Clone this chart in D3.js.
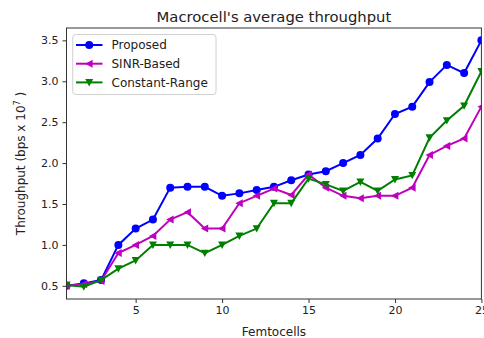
<!DOCTYPE html>
<html>
<head>
<meta charset="utf-8">
<script src="https://cdn.jsdelivr.net/npm/d3@7/dist/d3.min.js"></script>
<style>
  html, body { margin: 0; padding: 0; background: #fff; }
  text { font-family: "DejaVu Sans", sans-serif; fill: #222; }
</style>
</head>
<body>
<div id="chart"></div>
<script>
// data
const femtocells = d3.range(1, 26);
const proposed = [0.50, 0.53, 0.57, 1.00, 1.20, 1.31, 1.70, 1.71, 1.71, 1.60, 1.63, 1.67, 1.71,
  1.79, 1.86, 1.90, 2.00, 2.10, 2.30, 2.60, 2.69, 2.99, 3.20, 3.10, 3.50];
const sinrBased = [0.50, 0.52, 0.56, 0.90, 1.00, 1.11, 1.31, 1.40, 1.20, 1.20, 1.51, 1.60, 1.69,
  1.61, 1.86, 1.70, 1.60, 1.57, 1.60, 1.60, 1.70, 2.10, 2.21, 2.30, 2.69];
const constantRange = [0.51, 0.49, 0.57, 0.71, 0.81, 1.00, 1.00, 1.00, 0.90, 1.00, 1.11, 1.20, 1.51,
  1.51, 1.81, 1.74, 1.66, 1.77, 1.66, 1.80, 1.85, 2.31, 2.52, 2.70, 3.12];
const yTicks = [0.5, 1.0, 1.5, 2.0, 2.5, 3.0, 3.5];
const xTicks = [5, 10, 15, 20, 25];

const series = [
  { name: "Proposed", values: proposed, color: "#0000ff", marker: "circle" },
  { name: "SINR-Based", values: sinrBased, color: "#bf00bf", marker: "left" },
  { name: "Constant-Range", values: constantRange, color: "#008000", marker: "down" }
];

const width = 484;
const height = 338;
const margin = { top: 28, right: 2.6, bottom: 39, left: 66.5 };

const svg = d3.select("#chart")
  .append("svg")
  .attr("width", width)
  .attr("height", height);

const x = d3.scaleLinear()
  .domain([1, 25])
  .range([margin.left, width - margin.right]);

const y = d3.scaleLinear()
  .domain([0.339, 3.651])
  .range([height - margin.bottom, margin.top]);

svg.append("defs").append("clipPath")
  .attr("id", "plot-clip")
  .append("rect")
  .attr("x", margin.left)
  .attr("y", margin.top)
  .attr("width", width - margin.left - margin.right)
  .attr("height", height - margin.top - margin.bottom);

// marker shapes
function markerPath(type, r) {
  if (type === "left") {
    return `M${-r},0L${r * 0.85},${-r}L${r * 0.85},${r}Z`;
  }
  if (type === "down") {
    return `M0,${r}L${-r},${-r * 0.85}L${r},${-r * 0.85}Z`;
  }
  return d3.symbol(d3.symbolCircle, Math.PI * r * r)();
}

const line = d3.line()
  .x((d, i) => x(femtocells[i]))
  .y(d => y(d));

const plot = svg.append("g").attr("clip-path", "url(#plot-clip)");

series.forEach(s => {
  plot.append("path")
    .datum(s.values)
    .attr("fill", "none")
    .attr("stroke", s.color)
    .attr("stroke-width", 2)
    .attr("d", line);

  plot.selectAll(null)
    .data(s.values)
    .join("path")
    .attr("transform", (d, i) => `translate(${x(femtocells[i])},${y(d)})`)
    .attr("d", markerPath(s.marker, 4))
    .attr("fill", s.color);
});

// axes
const xAxis = svg.append("g")
  .attr("transform", `translate(0,${height - margin.bottom})`)
  .call(d3.axisBottom(x).tickValues(xTicks).tickSize(4).tickPadding(3).tickFormat(d3.format("d")));

const yAxis = svg.append("g")
  .attr("transform", `translate(${margin.left},0)`)
  .call(d3.axisLeft(y).tickValues(yTicks).tickSize(4).tickPadding(4).tickFormat(d3.format(".1f")));

[xAxis, yAxis].forEach(g => {
  g.select(".domain").remove();
  g.selectAll("line").attr("stroke", "#333");
  g.selectAll("text").attr("font-size", 11).attr("fill", "#222")
    .style("font-family", "DejaVu Sans, sans-serif");
});

// frame
svg.append("rect")
  .attr("x", margin.left)
  .attr("y", margin.top)
  .attr("width", width - margin.left - margin.right)
  .attr("height", height - margin.top - margin.bottom)
  .attr("fill", "none")
  .attr("stroke", "#333")
  .attr("stroke-width", 1);

// title and labels
svg.append("text")
  .attr("x", (margin.left + width - margin.right) / 2)
  .attr("y", 21.5)
  .attr("text-anchor", "middle")
  .attr("font-size", 14.8)
  .text("Macrocell's average throughput");

svg.append("text")
  .attr("x", (margin.left + width - margin.right) / 2)
  .attr("y", 335.5)
  .attr("text-anchor", "middle")
  .attr("font-size", 12)
  .text("Femtocells");

const yLabel = svg.append("text")
  .attr("transform", `translate(25,${(margin.top + height - margin.bottom) / 2}) rotate(-90)`)
  .attr("text-anchor", "middle")
  .attr("font-size", 12);
yLabel.append("tspan").text("Throughput (bps x 10");
yLabel.append("tspan").attr("font-size", 8).attr("dy", -5).text("7");
yLabel.append("tspan").attr("dy", 5).text(" )");

// legend
const legend = svg.append("g");
legend.append("rect")
  .attr("x", 72.7)
  .attr("y", 34.5)
  .attr("width", 143.3)
  .attr("height", 60)
  .attr("rx", 3)
  .attr("fill", "#fff")
  .attr("fill-opacity", 0.8)
  .attr("stroke", "#d0d0d0");

series.forEach((s, i) => {
  const cy = 45 + i * 18.7;
  legend.append("line")
    .attr("x1", 76).attr("x2", 102.5)
    .attr("y1", cy).attr("y2", cy)
    .attr("stroke", s.color)
    .attr("stroke-width", 2);
  legend.append("path")
    .attr("transform", `translate(89.2,${cy})`)
    .attr("d", markerPath(s.marker, 4))
    .attr("fill", s.color);
  legend.append("text")
    .attr("x", 111.5)
    .attr("y", cy + 4.3)
    .attr("font-size", 12)
    .text(s.name);
});
</script>
</body>
</html>
